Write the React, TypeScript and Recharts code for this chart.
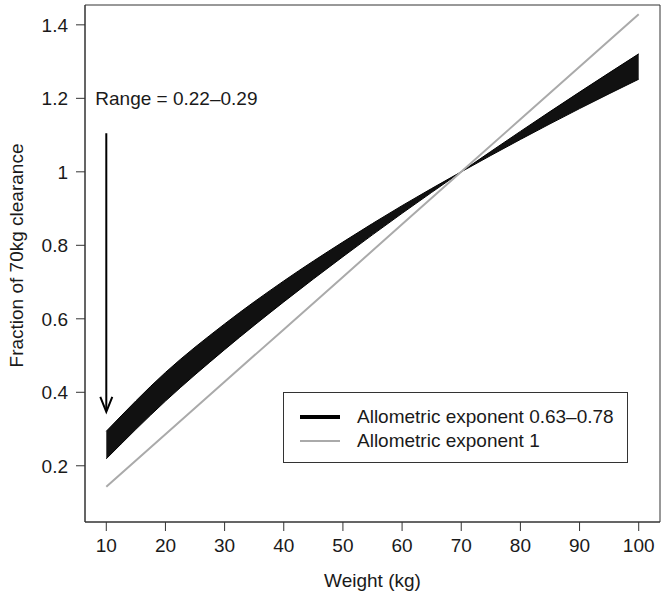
import React from 'react';
import {
  ComposedChart,
  Area,
  Line,
  XAxis,
  YAxis,
  Legend,
  ReferenceArea,
  ReferenceLine,
  ReferenceDot
} from 'recharts';

const weights = [10, 20, 30, 40, 50, 60, 70, 80, 90, 100];
const exponent063 = [0.294, 0.454, 0.586, 0.703, 0.809, 0.908, 1.0, 1.088, 1.172, 1.252];
const exponent078 = [0.219, 0.376, 0.516, 0.646, 0.769, 0.887, 1.0, 1.11, 1.217, 1.321];
const exponent1 = [0.143, 0.286, 0.429, 0.571, 0.714, 0.857, 1.0, 1.143, 1.286, 1.429];

const xTicks = [10, 20, 30, 40, 50, 60, 70, 80, 90, 100];
const yTicks = [0.2, 0.4, 0.6, 0.8, 1, 1.2, 1.4];

const rangeLabel = 'Range = 0.22\u20130.29';
const legendItems = [
  { name: 'Allometric exponent 0.63\u20130.78', color: '#000', width: 4 },
  { name: 'Allometric exponent 1', color: '#aaa', width: 2 }
];

const data = weights.map((w, i) => ({
  weight: w,
  band: [exponent078[i], exponent063[i]],
  linear: exponent1[i]
}));

const FONT = '"Liberation Sans", Arial, sans-serif';
const X_DOMAIN = [6.4, 103.6];
const Y_DOMAIN = [0.047, 1.454];

function LegendBox() {
  return (
    <div
      style={{
        border: '1px solid #333',
        width: 345,
        height: 71,
        boxSizing: 'border-box',
        paddingTop: 12,
        fontFamily: FONT,
        fontSize: 19,
        color: '#1a1a1a',
        background: '#fff'
      }}
    >
      {legendItems.map(item => (
        <div key={item.name} style={{ display: 'flex', alignItems: 'center', height: 24 }}>
          <div style={{ width: 16 }} />
          <div style={{ width: 40, height: item.width, background: item.color }} />
          <div style={{ width: 17 }} />
          <span>{item.name}</span>
        </div>
      ))}
    </div>
  );
}

const ArrowHead = (props: any) => {
  const { cx, cy } = props;
  return (
    <path
      d={`M${cx - 6},${cy - 15} L${cx},${cy} L${cx + 6},${cy - 15}`}
      fill="none"
      stroke="#000"
      strokeWidth={2}
    />
  );
};

const RangeText = (props: any) => {
  const { cx, cy } = props;
  return (
    <text x={cx - 11} y={cy} dy="0.36em" fontFamily={FONT} fontSize={19} fill="#1a1a1a">
      {rangeLabel}
    </text>
  );
};

const YTitle = (props: any) => {
  const vb = props.viewBox || { y: 5, height: 517 };
  const x = 16;
  const y = vb.y + vb.height / 2 - 8;
  return (
    <text
      x={x}
      y={y}
      transform={`rotate(-90, ${x}, ${y})`}
      textAnchor="middle"
      dy="0.36em"
      fontFamily={FONT}
      fontSize={19}
      fill="#1a1a1a"
    >
      Fraction of 70kg clearance
    </text>
  );
};

export default function App() {
  return (
    <div style={{ position: 'absolute', left: 0, top: 0, width: 664, height: 593, background: '#fff' }}>
      <ComposedChart
        width={664}
        height={593}
        data={data}
        margin={{ top: 5, right: 4, bottom: 0, left: 0 }}
        style={{ fontFamily: FONT }}
      >
        <XAxis
          dataKey="weight"
          type="number"
          domain={X_DOMAIN}
          ticks={xTicks}
          height={71}
          tickSize={9}
          tickMargin={8}
          stroke="#333"
          tick={{ fill: '#1a1a1a', fontSize: 19 }}
          label={{ value: 'Weight (kg)', position: 'insideBottom', offset: 6, fill: '#1a1a1a', fontSize: 19 }}
        />
        <YAxis
          type="number"
          domain={Y_DOMAIN}
          ticks={yTicks}
          width={85}
          tickSize={9}
          tickMargin={8}
          stroke="#333"
          tick={{ fill: '#1a1a1a', fontSize: 19 }}
          label={<YTitle />}
        />
        <ReferenceArea
          x1={X_DOMAIN[0]}
          x2={X_DOMAIN[1]}
          y1={Y_DOMAIN[0]}
          y2={Y_DOMAIN[1]}
          fill="none"
          stroke="#333"
          strokeWidth={1}
        />
        <Line
          dataKey="linear"
          type="linear"
          stroke="#aaa"
          strokeWidth={2}
          dot={false}
          isAnimationActive={false}
        />
        <Area
          dataKey="band"
          type="monotone"
          fill="#111"
          fillOpacity={1}
          stroke="#000"
          strokeWidth={1}
          isAnimationActive={false}
        />
        <ReferenceLine
          segment={[{ x: 10, y: 1.105 }, { x: 10, y: 0.35 }]}
          stroke="#000"
          strokeWidth={2}
        />
        <ReferenceDot x={10} y={0.347} r={0} shape={ArrowHead} />
        <ReferenceDot x={10} y={1.2} r={0} shape={RangeText} />
        <Legend
          layout="vertical"
          align="center"
          verticalAlign="middle"
          content={() => <LegendBox />}
          wrapperStyle={{ position: 'absolute', left: 283, top: 392, width: 345, height: 71 }}
        />
      </ComposedChart>
    </div>
  );
}
